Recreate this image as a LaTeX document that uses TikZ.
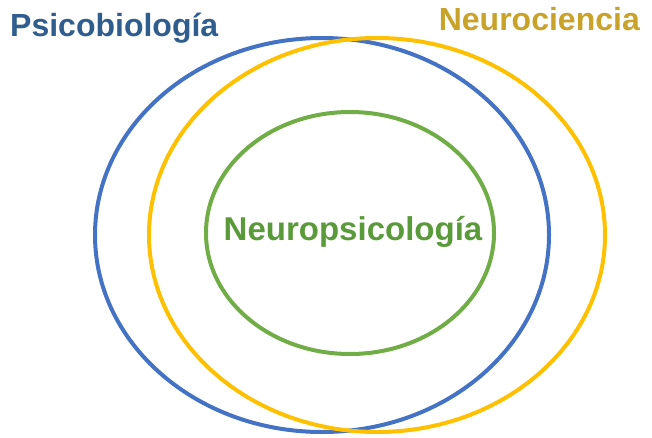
\documentclass[tikz,border=0pt]{standalone}
\usepackage{fontspec}
\setmainfont{Liberation Sans}
\definecolor{bline}{HTML}{4472C4}
\definecolor{yline}{HTML}{FFC000}
\definecolor{gline}{HTML}{70AD47}
\definecolor{btext}{HTML}{2F5E8E}
\definecolor{ytext}{HTML}{C9A22A}
\definecolor{gtext}{HTML}{5A9A3A}
\begin{document}
\begin{tikzpicture}[x=1pt,y=1pt,
  ring/.style={line width=4pt},
  lbl/.style={inner sep=0pt,font=\fontsize{32}{36}\selectfont\bfseries}]
\useasboundingbox (0,0) rectangle (652,437);
\draw[ring,bline] (322,202) ellipse [x radius=227,y radius=197];
\draw[ring,yline] (377,202) ellipse [x radius=228,y radius=197];
\draw[ring,gline] (350,204) ellipse [x radius=144,y radius=121];
\node[lbl,text=btext,anchor=base west] (psico) at (10,400) {Psicobiología};
\node[lbl,text=ytext,anchor=base east] (neuro) at (640,406) {Neurociencia};
\node[lbl,text=gtext,anchor=base,font=\fontsize{33}{37}\selectfont\bfseries] (neuropsi) at (353,197) {Neuropsicología};
\end{tikzpicture}
\end{document}
